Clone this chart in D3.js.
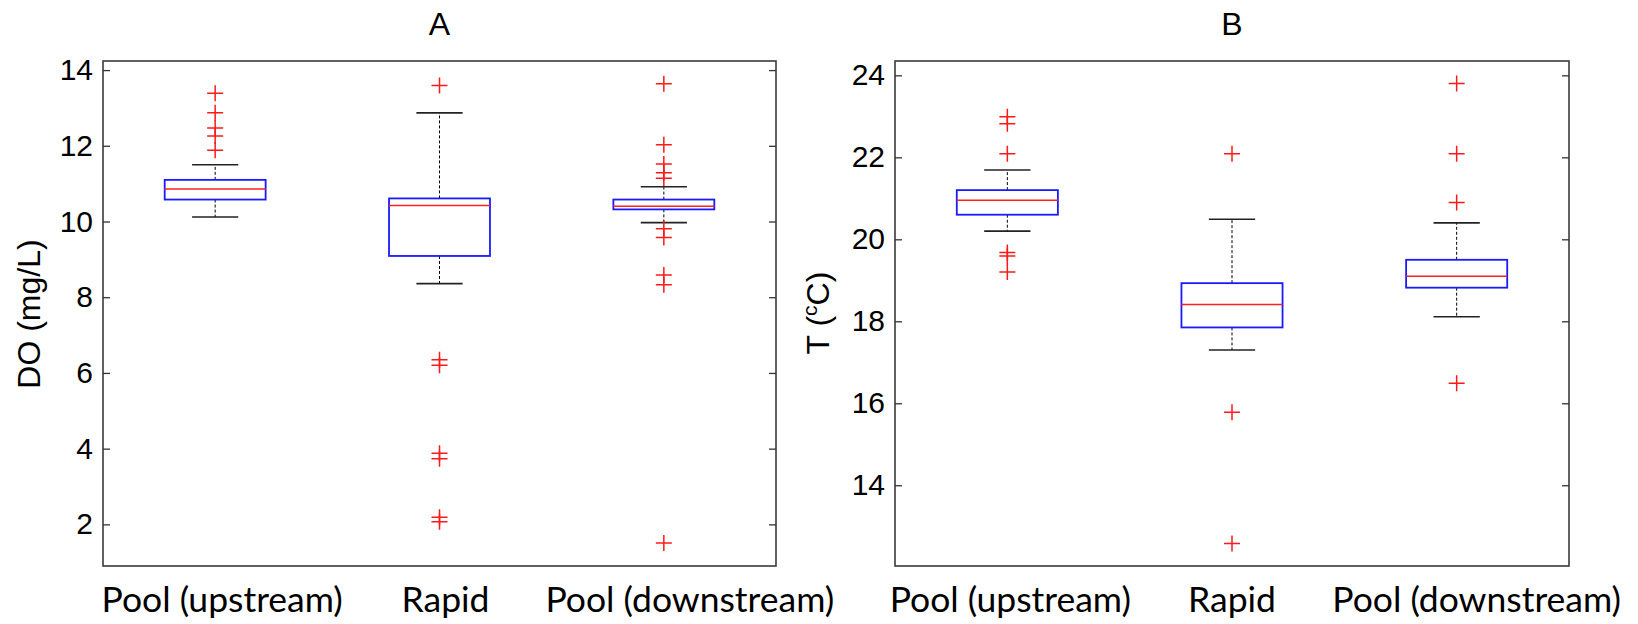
<!DOCTYPE html>
<html>
<head>
<meta charset="utf-8">
<script src="https://cdn.jsdelivr.net/npm/d3@7"></script>
<style>
  body { margin: 0; background: #fff; }
  svg { display: block; }
  .tick text { font-family: "Liberation Sans", Arial, sans-serif; font-size: 30px; fill: #000; }
  .tick line { stroke: #333; stroke-width: 1.3; }
  .domain { display: none; }
</style>
</head>
<body>
<div id="chart"></div>
<script>
// categories
const groups = ['Pool (upstream)', 'Rapid', 'Pool (downstream)'];

// panel A: dissolved oxygen (mg/L)
const doLowWhisker = [10.12, 8.36, 9.97];
const doQ1 = [10.58, 9.09, 10.32];
const doMedian = [10.86, 10.42, 10.40];
const doQ3 = [11.10, 10.61, 10.58];
const doHighWhisker = [11.50, 12.87, 10.92];
const doOutliers = [
  [13.39, 12.87, 12.47, 12.26, 11.88],
  [13.59, 6.35, 6.20, 3.88, 3.73, 2.19, 2.07],
  [13.64, 12.03, 11.52, 11.29, 11.14, 9.81, 9.58, 8.59, 8.33, 1.51]
];
const doTicks = [2, 4, 6, 8, 10, 12, 14];

// panel B: temperature
const tLowWhisker = [20.20, 17.30, 18.11];
const tQ1 = [20.60, 17.85, 18.82];
const tMedian = [20.95, 18.41, 19.10];
const tQ3 = [21.20, 18.93, 19.50];
const tHighWhisker = [21.69, 20.49, 20.40];
const tOutliers = [
  [22.99, 22.82, 22.09, 19.68, 19.59, 19.20],
  [22.09, 15.78, 12.58],
  [23.80, 22.09, 20.90, 16.49]
];
const tTicks = [14, 16, 18, 20, 22, 24];

const width = 1638;
const height = 624;
const plotTop = 61;
const plotBottom = 566;

const svg = d3.select('#chart')
  .append('svg')
  .attr('width', width)
  .attr('height', height)

const drawPanel = (opts) => {
  const x = d3.scaleLinear().domain([0.5, 3.5]).range([opts.left, opts.right]);
  const y = d3.scaleLinear().domain(opts.domain).range([plotBottom, plotTop]);
  const g = svg.append('g');

  const stats = groups.map((name, i) => ({
    name: name,
    pos: i + 1,
    lo: opts.lo[i], q1: opts.q1[i], med: opts.med[i], q3: opts.q3[i], hi: opts.hi[i],
    out: opts.out[i]
  }));

  // axes (ticks inward, on both sides)
  g.append('g')
   .attr('transform', 'translate(' + opts.left + ',0)')
   .call(d3.axisLeft(y).tickValues(opts.ticks).tickSizeInner(-7).tickSizeOuter(0).tickPadding(10))
  g.append('g')
   .attr('transform', 'translate(' + opts.right + ',0)')
   .call(d3.axisRight(y).tickValues(opts.ticks).tickSizeInner(-7).tickSizeOuter(0).tickFormat(''))

  const box = g.selectAll('.box')
    .data(stats)
    .enter()
    .append('g')
    .attr('class', 'box')

  const hw = 0.225;  // half box width
  const cw = 0.103;  // half cap width

  //whiskers
  box.append('line')
     .attr('x1', d => x(d.pos)).attr('x2', d => x(d.pos))
     .attr('y1', d => y(d.q3)).attr('y2', d => y(d.hi))
     .style('stroke', '#000').style('stroke-width', 1).style('stroke-dasharray', '3,2')
  box.append('line')
     .attr('x1', d => x(d.pos)).attr('x2', d => x(d.pos))
     .attr('y1', d => y(d.q1)).attr('y2', d => y(d.lo))
     .style('stroke', '#000').style('stroke-width', 1).style('stroke-dasharray', '3,2')

  //caps
  box.selectAll('.cap')
     .data(d => [d.lo, d.hi].map(v => ({pos: d.pos, v: v})))
     .enter()
     .append('line')
     .attr('x1', d => x(d.pos - cw)).attr('x2', d => x(d.pos + cw))
     .attr('y1', d => y(d.v)).attr('y2', d => y(d.v))
     .style('stroke', '#222').style('stroke-width', 1.6)

  box.append('rect')
     .attr('x', d => x(d.pos - hw))
     .attr('width', d => x(d.pos + hw) - x(d.pos - hw))
     .attr('y', d => y(d.q3))
     .attr('height', d => y(d.q1) - y(d.q3))
     .style('fill', 'none').style('stroke', '#1a1aff').style('stroke-width', 1.8)

  box.append('line')
     .attr('x1', d => x(d.pos - hw)).attr('x2', d => x(d.pos + hw))
     .attr('y1', d => y(d.med)).attr('y2', d => y(d.med))
     .style('stroke', '#ff2020').style('stroke-width', 1.5)

  //outliers as + markers
  box.selectAll('.out')
     .data(d => d.out.map(v => ({pos: d.pos, v: v})))
     .enter()
     .append('path')
     .attr('d', d => {
       const cx = x(d.pos), cy = y(d.v);
       return 'M' + (cx - 8) + ',' + cy + 'H' + (cx + 8) + 'M' + cx + ',' + (cy - 8) + 'V' + (cy + 8);
     })
     .style('stroke', '#ff1a1a').style('stroke-width', 1.5).style('fill', 'none')

  // frame
  g.append('rect')
   .attr('x', opts.left).attr('y', plotTop)
   .attr('width', opts.right - opts.left).attr('height', plotBottom - plotTop)
   .style('fill', 'none').style('stroke', '#3a3a3a').style('stroke-width', 1.6)

  // title
  g.append('text')
   .text(opts.title)
   .attr('x', (opts.left + opts.right) / 2)
   .attr('y', 35)
   .attr('text-anchor', 'middle')
   .style('font-family', '"Liberation Sans", Arial, sans-serif')
   .style('font-size', '32px')

  // category labels
  g.selectAll('.cat')
   .data(stats)
   .enter()
   .append('text')
   .text(d => d.name)
   .attr('x', (d, i) => x(d.pos) + opts.nudge[i])
   .attr('y', 612)
   .attr('text-anchor', 'middle')
   .style('font-family', 'Lato, "Open Sans", sans-serif')
   .style('font-size', '35.5px')

  return g;
}

const gA = drawPanel({
  left: 103, right: 776, domain: [0.9, 14.24], ticks: doTicks, title: 'A',
  lo: doLowWhisker, q1: doQ1, med: doMedian, q3: doQ3, hi: doHighWhisker, out: doOutliers,
  nudge: [7, 6, 26]
})

const gB = drawPanel({
  left: 895, right: 1569, domain: [12.03, 24.35], ticks: tTicks, title: 'B',
  lo: tLowWhisker, q1: tQ1, med: tMedian, q3: tQ3, hi: tHighWhisker, out: tOutliers,
  nudge: [3, 0, 20]
})

// y labels
gA.append('text')
  .text('DO (mg/L)')
  .attr('transform', 'translate(40,314) rotate(-90)')
  .attr('text-anchor', 'middle')
  .style('font-family', '"Liberation Sans", Arial, sans-serif')
  .style('font-size', '32px')

const tLabel = gB.append('text')
  .attr('transform', 'translate(829,313) rotate(-90)')
  .attr('text-anchor', 'middle')
  .style('font-family', '"Liberation Sans", Arial, sans-serif')
  .style('font-size', '32px')
tLabel.append('tspan').text('T (')
tLabel.append('tspan').text('c').attr('dy', -12).style('font-size', '21px')
tLabel.append('tspan').text('C)').attr('dy', 12)
</script>
</body>
</html>
